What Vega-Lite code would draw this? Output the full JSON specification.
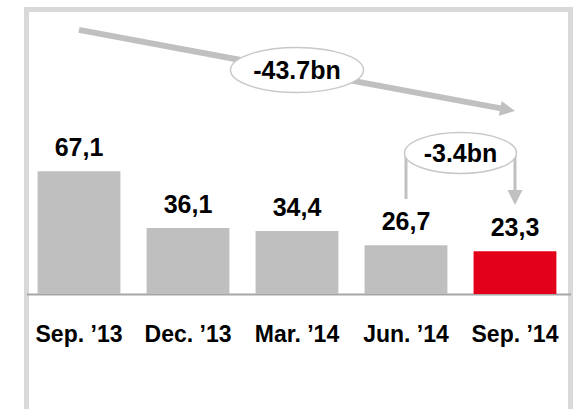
{
  "$schema": "https://vega.github.io/schema/vega-lite/v6.json",
  "width": 544,
  "height": 410.5,
  "autosize": "none",
  "padding": {"left": 26.5, "top": 9.5, "right": 7.5, "bottom": 0},
  "background": "#ffffff",
  "config": {
    "view": {"stroke": "#d9d9d9", "strokeWidth": 5},
    "font": "Liberation Sans"
  },
  "data": {
    "values": [
      {"period": "Sep. ’13", "value": 67.1, "label": "67,1"},
      {"period": "Dec. ’13", "value": 36.1, "label": "36,1"},
      {"period": "Mar. ’14", "value": 34.4, "label": "34,4"},
      {"period": "Jun. ’14", "value": 26.7, "label": "26,7"},
      {"period": "Sep. ’14", "value": 23.3, "label": "23,3"}
    ]
  },
  "encoding": {
    "x": {
      "field": "period",
      "type": "ordinal",
      "sort": null,
      "scale": {
        "type": "band",
        "domain": ["Sep. ’13", "Dec. ’13", "Mar. ’14", "Jun. ’14", "Sep. ’14"],
        "paddingInner": 0.24,
        "paddingOuter": 0.1155,
        "align": 0.44
      },
      "axis": {
        "title": null,
        "orient": "bottom",
        "offset": -126,
        "domainColor": "#a6a6a6",
        "domainWidth": 2,
        "ticks": false,
        "tickSize": 0,
        "labelPadding": 29,
        "labelAngle": 0,
        "labelFont": "Liberation Sans",
        "labelFontSize": 23,
        "labelFontWeight": "bold",
        "labelColor": "#000000",
        "labelOverlap": false,
        "grid": false
      }
    },
    "y": {
      "field": "value",
      "type": "quantitative",
      "scale": {"domain": [-68.85, 155.46], "nice": false, "zero": false},
      "axis": null
    }
  },
  "layer": [
    {
      "mark": {"type": "bar"},
      "encoding": {
        "color": {
          "condition": {"test": "datum.period === 'Sep. ’14'", "value": "#e2001a"},
          "value": "#bfbfbf"
        }
      }
    },
    {
      "mark": {"type": "text", "baseline": "alphabetic", "dy": -15, "fontSize": 25, "fontWeight": "bold", "color": "#000000", "font": "Liberation Sans"},
      "encoding": {"text": {"field": "label"}}
    },
    {
      "data": {"values": [{"period": "Sep. ’13", "value": 144.3, "period2": "Sep. ’14", "value2": 100}]},
      "mark": {"type": "rule", "strokeWidth": 6, "color": "#c0c0c0", "strokeCap": "butt", "x2Offset": -10, "y2Offset": -1.86},
      "encoding": {"x2": {"field": "period2"}, "y2": {"field": "value2"}}
    },
    {
      "data": {"values": [{"period": "Sep. ’14", "value": 100}]},
      "mark": {"type": "point", "shape": "M1,0L-1,-1L-1,1Z", "size": 225, "filled": true, "color": "#c0c0c0", "opacity": 1, "angle": 10.52, "xOffset": -7.37, "yOffset": -1.37},
      "encoding": {}
    },
    {
      "data": {"values": [{"period": "Jun. ’14", "value": 77.0, "value2": 51.9}]},
      "mark": {"type": "rule", "strokeWidth": 3, "color": "#c0c0c0", "strokeCap": "butt"},
      "encoding": {"y2": {"field": "value2"}}
    },
    {
      "data": {"values": [{"period": "Sep. ’14", "value": 77.0, "value2": 48.6}]},
      "mark": {"type": "rule", "strokeWidth": 3, "color": "#c0c0c0", "strokeCap": "butt", "y2Offset": -8},
      "encoding": {"y2": {"field": "value2"}}
    },
    {
      "data": {"values": [{"period": "Sep. ’14", "value": 48.6}]},
      "mark": {"type": "point", "shape": "M0,1L-1,-1L1,-1Z", "size": 225, "filled": true, "color": "#c0c0c0", "opacity": 1, "yOffset": -7.5},
      "encoding": {}
    },
    {
      "data": {"values": [{"period": "Mar. ’14", "value": 122.4, "label": "-43.7bn"}]},
      "layer": [
        {
          "mark": {"type": "point", "shape": "M-1,0C-1,-0.1867 -0.5523,-0.338 0,-0.338C0.5523,-0.338 1,-0.1867 1,0C1,0.1867 0.5523,0.338 0,0.338C-0.5523,0.338 -1,0.1867 -1,0Z", "size": 17689, "filled": true, "fill": "#ffffff", "stroke": "#c8c8c8", "strokeWidth": 1.5, "opacity": 1, "fillOpacity": 1, "strokeOpacity": 1},
          "encoding": {}
        },
        {
          "mark": {"type": "text", "baseline": "alphabetic", "align": "center", "dy": 9, "fontSize": 25, "fontWeight": "bold", "color": "#000000", "font": "Liberation Sans"},
          "encoding": {"text": {"field": "label"}}
        }
      ]
    },
    {
      "data": {"values": [{"period": "Jun. ’14", "value": 77.0, "label": "-3.4bn"}]},
      "layer": [
        {
          "mark": {"type": "point", "shape": "M-1,0C-1,-0.2021 -0.5523,-0.366 0,-0.366C0.5523,-0.366 1,-0.2021 1,0C1,0.2021 0.5523,0.366 0,0.366C-0.5523,0.366 -1,0.2021 -1,0Z", "size": 12544, "filled": true, "fill": "#ffffff", "stroke": "#c8c8c8", "strokeWidth": 1.5, "opacity": 1, "fillOpacity": 1, "strokeOpacity": 1, "xOffset": 54.5},
          "encoding": {}
        },
        {
          "mark": {"type": "text", "baseline": "alphabetic", "align": "center", "dx": 54.5, "dy": 9, "fontSize": 25, "fontWeight": "bold", "color": "#000000", "font": "Liberation Sans"},
          "encoding": {"text": {"field": "label"}}
        }
      ]
    }
  ]
}
